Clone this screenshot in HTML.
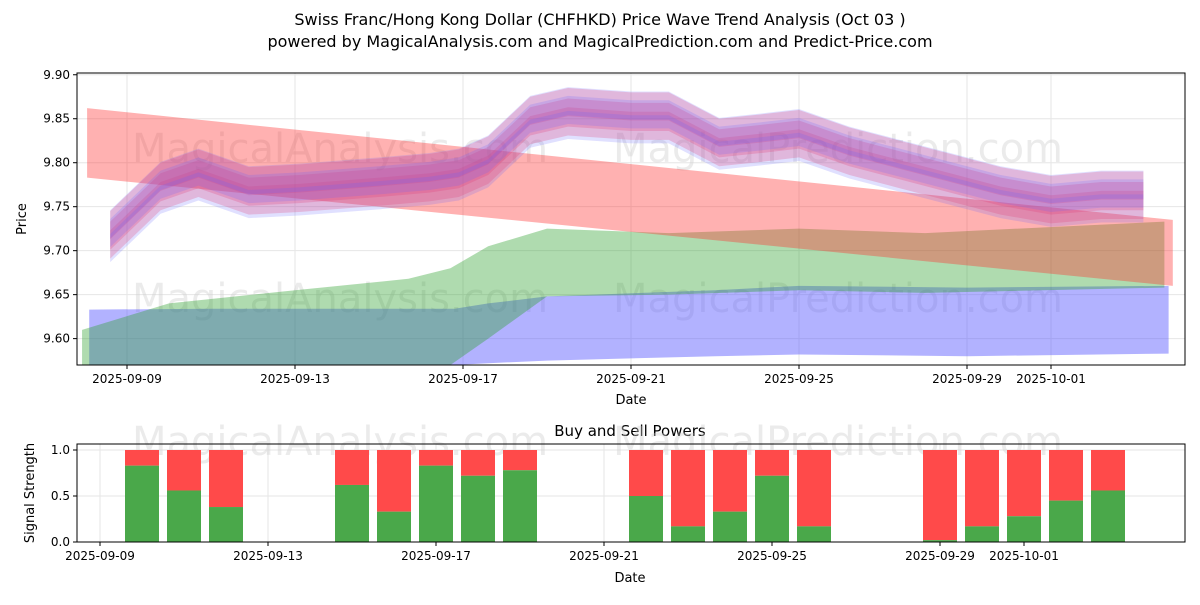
<!DOCTYPE html>
<html><head><meta charset="utf-8"><style>
body{margin:0;background:#fff;font-family:"Liberation Sans","DejaVu Sans",sans-serif}
svg text{font-family:"DejaVu Sans","Liberation Sans",sans-serif}
</style></head><body>
<svg id="c" width="1200" height="600" xmlns="http://www.w3.org/2000/svg">
<rect width="1200" height="600" fill="#fff"/>
<text x="600" y="25" font-size="16" text-anchor="middle">Swiss Franc/Hong Kong Dollar (CHFHKD) Price Wave Trend Analysis (Oct 03 )</text>
<text x="600" y="47" font-size="16" text-anchor="middle">powered by MagicalAnalysis.com and MagicalPrediction.com and Predict-Price.com</text>
<g id="topg"></g><g id="botg"></g>
</svg>
<script>
// ---- top chart data (day offsets from 2025-09-09) ----
const waveDays   = [-0.4,0.8,1.7,2.9,4.1,6.0,7.2,7.9,8.6,9.6,10.5,12.0,12.9,14.1,15.1,16.0,17.2,18.4,19.6,20.8,22.0,23.2,24.2];
const waveCenter = [9.715,9.77,9.785,9.765,9.768,9.775,9.78,9.785,9.80,9.845,9.855,9.85,9.85,9.82,9.825,9.83,9.81,9.795,9.78,9.765,9.755,9.76,9.76];
const redOffsets = [0.00,0.012,-0.01];
const blueOffsets= [0.005,-0.012,0.015];
const redTrendDays=[-0.95,24.9];
const redTrendTop=[9.862,9.735];
const redTrendBot=[9.783,9.66];
const greenDays=[-1.07,1.0,4.0,6.7,7.7,8.6,10.0,12.9,16.0,19.0,24.7];
const greenTop=[9.61,9.64,9.655,9.668,9.68,9.705,9.725,9.72,9.725,9.72,9.733];
const greenBot=[9.52,9.54,9.55,9.56,9.57,9.60,9.648,9.65,9.655,9.652,9.658];
const blueDays=[-0.9,2.0,5.0,7.8,8.6,10.0,14.0,16.0,20.0,24.8];
const blueTop=[9.633,9.634,9.634,9.634,9.64,9.648,9.655,9.66,9.658,9.66];
const blueBot=[9.52,9.55,9.565,9.57,9.572,9.575,9.58,9.582,9.58,9.583];
const xTickLabels=["2025-09-09","2025-09-13","2025-09-17","2025-09-21","2025-09-25","2025-09-29","2025-10-01"];
const xTickDays=[0,4,8,12,16,20,22];
const yTicks=[9.60,9.65,9.70,9.75,9.80,9.85,9.90];
// ---- bottom chart data ----
const barDays=[1,2,3,6,7,8,9,10,13,14,15,16,17,20,21,22,23,24];
const buyVals=[0.83,0.56,0.38,0.62,0.33,0.83,0.72,0.78,0.5,0.17,0.33,0.72,0.17,0.02,0.17,0.28,0.45,0.56];
const bTicks=[0,0.5,1.0];

const NS="http://www.w3.org/2000/svg";
function mk(tag,attrs,parent,txt){const e=document.createElementNS(NS,tag);for(const k in attrs)e.setAttribute(k,attrs[k]);if(txt!==undefined)e.textContent=txt;parent.appendChild(e);return e;}
const topG=document.getElementById('topg'),botG=document.getElementById('botg');
const L=77,R=1185,T=73,B=365;
const X=d=>127+d*42;
const Y=v=>T+(9.902-v)/(9.902-9.570)*(B-T);
const cp=mk('clipPath',{id:'cp'},topG);
mk('rect',{x:L,y:T,width:R-L,height:B-T},cp);
function band(days,up,lo,color,op,name){
  let d="M"+days.map((t,i)=>X(t)+","+Y(up[i])).join("L");
  d+="L"+days.map((t,i)=>X(t)+","+Y(lo[i])).reverse().join("L")+"Z";
  const p=mk('path',{d:d,fill:color,'fill-opacity':op,'clip-path':'url(#cp)'},topG);
  
  
}
yTicks.forEach(v=>{mk('line',{x1:L,x2:R,y1:Y(v),y2:Y(v),stroke:'#e6e6e6'},topG);});
xTickDays.forEach(d=>{mk('line',{x1:X(d),x2:X(d),y1:T,y2:B,stroke:'#e6e6e6'},topG);});
mk('text',{x:340,y:162,'font-size':40,fill:'#ccc','fill-opacity':0.4,'text-anchor':'middle'},topG,'MagicalAnalysis.com');
mk('text',{x:838,y:162,'font-size':40,fill:'#ccc','fill-opacity':0.4,'text-anchor':'middle'},topG,'MagicalPrediction.com');
mk('text',{x:340,y:312,'font-size':40,fill:'#ccc','fill-opacity':0.4,'text-anchor':'middle'},topG,'MagicalAnalysis.com');
mk('text',{x:838,y:312,'font-size':40,fill:'#ccc','fill-opacity':0.4,'text-anchor':'middle'},topG,'MagicalPrediction.com');
band(blueDays,blueTop,blueBot,'#5555ff',0.45,'blue-range-band');
band(greenDays,greenTop,greenBot,'#2ca02c',0.38,'green-range-band');
band(redTrendDays,redTrendTop,redTrendBot,'#ff3333',0.38,'red-trend-band');
redOffsets.forEach(o=>{band(waveDays,waveCenter.map(v=>v+o+0.018),waveCenter.map(v=>v+o-0.014),'#ff3355',0.25,'red-wave-band');});
blueOffsets.forEach(o=>{band(waveDays,waveCenter.map(v=>v+o+0.016),waveCenter.map(v=>v+o-0.016),'#6666ff',0.2,'blue-wave-band');});
mk('rect',{x:L,y:T,width:R-L,height:B-T,fill:'none',stroke:'#000','stroke-width':1},topG);
yTicks.forEach(v=>{const y=Y(v);mk('line',{x1:L-4,x2:L,y1:y,y2:y,stroke:'#000'},topG);
 mk('text',{x:L-7,y:y+4,'font-size':12,'text-anchor':'end'},topG,v.toFixed(2));});
xTickDays.forEach((d,i)=>{mk('line',{x1:X(d),x2:X(d),y1:B,y2:B+4,stroke:'#000'},topG);
 mk('text',{x:X(d),y:B+18,'font-size':12,'text-anchor':'middle'},topG,xTickLabels[i]);});
mk('text',{x:631,y:404,'font-size':13,'text-anchor':'middle'},topG,'Date');
mk('text',{x:26,y:219,'font-size':13,'text-anchor':'middle',transform:'rotate(-90 26 219)'},topG,'Price');

const bL=77,bR=1185,bT=444,bB=542;
const BX=d=>100+d*42, BY=v=>bB-v*92;
mk('text',{x:630,y:436,'font-size':15,'text-anchor':'middle'},botG,'Buy and Sell Powers');
bTicks.forEach(v=>mk('line',{x1:bL,x2:bR,y1:BY(v),y2:BY(v),stroke:'#e6e6e6'},botG));
xTickDays.forEach(d=>mk('line',{x1:BX(d),x2:BX(d),y1:bT,y2:bB,stroke:'#e6e6e6'},botG));
mk('text',{x:340,y:455,'font-size':40,fill:'#ccc','fill-opacity':0.4,'text-anchor':'middle'},botG,'MagicalAnalysis.com');
mk('text',{x:838,y:455,'font-size':40,fill:'#ccc','fill-opacity':0.4,'text-anchor':'middle'},botG,'MagicalPrediction.com');
barDays.forEach((d,i)=>{
 const x=BX(d)-17;
 const s=mk('rect',{x:x,y:BY(1),width:34,height:BY(buyVals[i])-BY(1),fill:'#ff4a4a'},botG);
 
 
 const g=mk('rect',{x:x,y:BY(buyVals[i]),width:34,height:bB-BY(buyVals[i]),fill:'#4aa84a'},botG);
 
 
});
mk('rect',{x:bL,y:bT,width:bR-bL,height:bB-bT,fill:'none',stroke:'#000'},botG);
bTicks.forEach(v=>{mk('line',{x1:bL-4,x2:bL,y1:BY(v),y2:BY(v),stroke:'#000'},botG);
 mk('text',{x:bL-7,y:BY(v)+4,'font-size':12,'text-anchor':'end'},botG,v.toFixed(1));});
xTickDays.forEach((d,i)=>{mk('line',{x1:BX(d),x2:BX(d),y1:bB,y2:bB+4,stroke:'#000'},botG);
 mk('text',{x:BX(d),y:bB+18,'font-size':12,'text-anchor':'middle'},botG,xTickLabels[i]);});
mk('text',{x:630,y:582,'font-size':13,'text-anchor':'middle'},botG,'Date');
mk('text',{x:34,y:493,'font-size':13,'text-anchor':'middle',transform:'rotate(-90 34 493)'},botG,'Signal Strength');
</script>
</body></html>
